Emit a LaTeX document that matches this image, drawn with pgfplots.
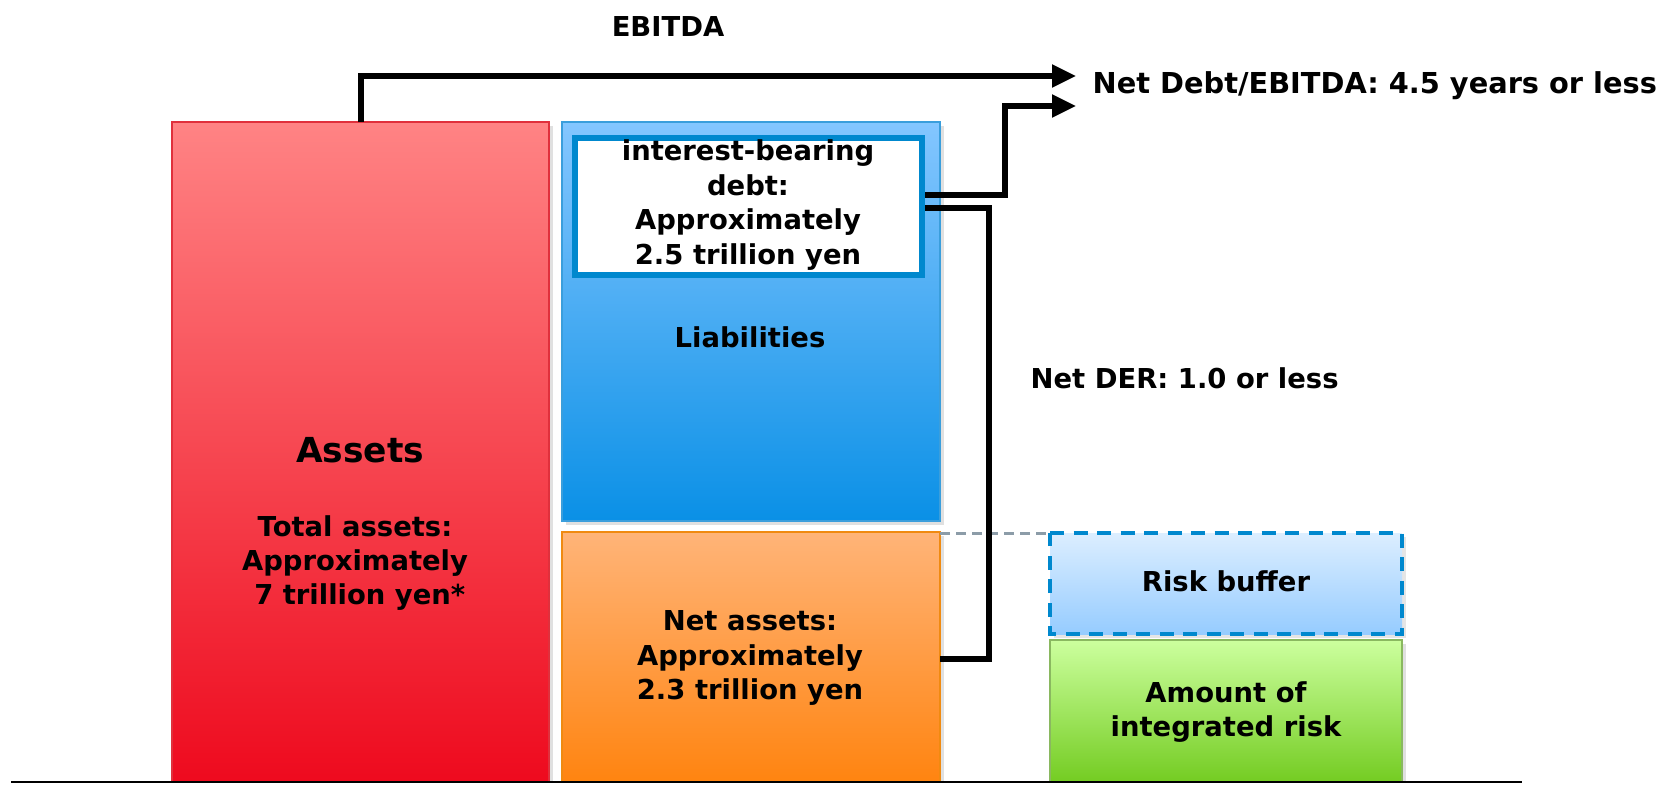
\documentclass[border=0pt]{standalone}
\usepackage{fontspec}
\setmainfont{DejaVu Sans}
\usepackage{pgfplots}
\pgfplotsset{compat=1.18}
\usetikzlibrary{arrows.meta}
\definecolor{redT}{HTML}{FF8384}
\definecolor{redB}{HTML}{EE0A1E}
\definecolor{redE}{HTML}{E0303C}
\definecolor{bluT}{HTML}{84C6FF}
\definecolor{bluB}{HTML}{0A90E6}
\definecolor{bluE}{HTML}{3A9EDC}
\definecolor{boxE}{HTML}{0088CE}
\definecolor{orT}{HTML}{FFB478}
\definecolor{orB}{HTML}{FF8410}
\definecolor{orE}{HTML}{F08A10}
\definecolor{rbT}{HTML}{DCEEFF}
\definecolor{rbB}{HTML}{96CCFF}
\definecolor{grT}{HTML}{CCFF9E}
\definecolor{grB}{HTML}{74CC22}
\definecolor{grE}{HTML}{8AB860}
\definecolor{grayD}{HTML}{8C9CA8}
\begin{document}
\begin{tikzpicture}
\begin{axis}[
  width=166.2mm, height=78.4mm, scale only axis,
  xmin=0, xmax=1662, ymin=0, ymax=784, y dir=reverse,
  hide axis, clip=false,
]
\coordinate (bl) at (axis cs:0,784);
\coordinate (tr) at (axis cs:1662,0);
% shadows
\addplot[draw=none, fill=black, fill opacity=0.12] coordinates {(176,126) (553,126) (553,782) (176,782)} -- cycle;
\addplot[draw=none, fill=black, fill opacity=0.12] coordinates {(566,126) (944,126) (944,525) (566,525)} -- cycle;
\addplot[draw=none, fill=black, fill opacity=0.12] coordinates {(566,536) (944,536) (944,782) (566,782)} -- cycle;
\addplot[draw=none, fill=black, fill opacity=0.10] coordinates {(1054,537) (1406,537) (1406,638) (1054,638)} -- cycle;
\addplot[draw=none, fill=black, fill opacity=0.12] coordinates {(1054,644) (1406,644) (1406,782) (1054,782)} -- cycle;
% Assets
\addplot[draw=redE, line width=0.2mm, top color=redT, bottom color=redB] coordinates {(172,122) (549,122) (549,782) (172,782)} -- cycle;
% Liabilities
\addplot[draw=bluE, line width=0.2mm, top color=bluT, bottom color=bluB] coordinates {(562,122) (940,122) (940,521) (562,521)} -- cycle;
% interest-bearing debt box
\addplot[draw=boxE, line width=0.6mm, fill=white] coordinates {(575,138) (922,138) (922,275) (575,275)} -- cycle;
% Net assets
\addplot[draw=orE, line width=0.2mm, top color=orT, bottom color=orB] coordinates {(562,532) (940,532) (940,782) (562,782)} -- cycle;
% Risk buffer
\addplot[draw=none, top color=rbT, bottom color=rbB] coordinates {(1050,533) (1402,533) (1402,634) (1050,634)} -- cycle;
\addplot[draw=boxE, line width=0.4mm, dash pattern=on 1.4mm off 0.95mm] coordinates {(1050,533) (1402,533) (1402,634) (1050,634)} -- cycle;
% integrated risk
\addplot[draw=grE, line width=0.2mm, top color=grT, bottom color=grB] coordinates {(1050,640) (1402,640) (1402,782) (1050,782)} -- cycle;
% grey dashed
\addplot[draw=grayD, line width=0.3mm, dash pattern=on 1.0mm off 0.6mm] coordinates {(940,533) (1050,533)};
% arrows
\addplot[black, line width=0.55mm, -{Triangle[length=2.4mm, width=2.2mm]}] coordinates {(361,122) (361,76) (1076,76)};
\addplot[black, line width=0.55mm, -{Triangle[length=2.4mm, width=2.2mm]}] coordinates {(925,195) (1005,195) (1005,106) (1076,106)};
\addplot[black, line width=0.55mm] coordinates {(925,208) (989,208) (989,659) (940,659)};
% baseline
\addplot[black, line width=0.22mm] coordinates {(11,782) (1522,782)};
% texts
\tikzset{lbl/.style={font=\fontsize{7.8}{9.8}\selectfont\bfseries, align=center, inner sep=0pt}}
\node[lbl] at (axis cs:668,27) {EBITDA};
\node[lbl, anchor=west, font=\fontsize{8.2}{9.8}\selectfont\bfseries] at (axis cs:1092,86) {Net Debt/EBITDA: 4.5 years or less};
\node[lbl, anchor=west] at (axis cs:1030,378) {Net DER: 1.0 or less};
\node[lbl, font=\fontsize{9.8}{11}\selectfont\bfseries] at (axis cs:360,450) {Assets};
\node[lbl] at (axis cs:355,563) {Total assets:\\Approximately\\\ 7 trillion yen*};
\node[lbl] at (axis cs:750,337) {Liabilities};
\node[lbl] at (axis cs:748,205) {interest-bearing\\debt:\\Approximately\\2.5 trillion yen};
\node[lbl] at (axis cs:750,658) {Net assets:\\Approximately\\2.3 trillion yen};
\node[lbl] at (axis cs:1226,581) {Risk buffer};
\node[lbl] at (axis cs:1226,712) {Amount of\\integrated risk};
\end{axis}
\pgfresetboundingbox
\path (bl) rectangle (tr);
\end{tikzpicture}
\end{document}
